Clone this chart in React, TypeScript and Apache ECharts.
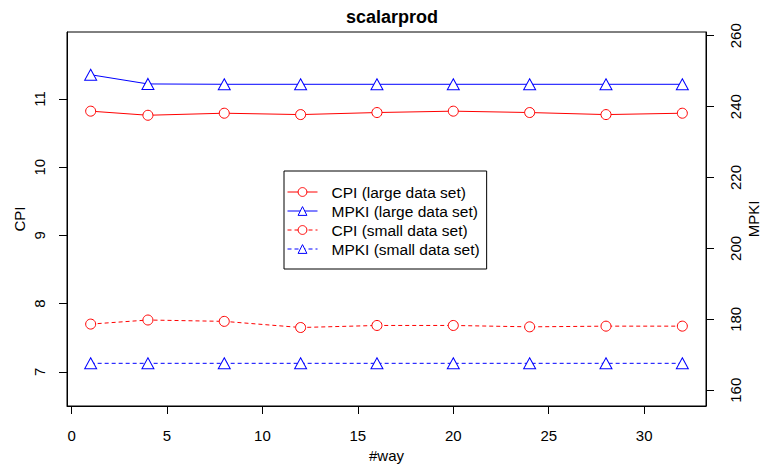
import React, { useEffect, useRef } from "react";
import * as echarts from "echarts";

// #way settings on the x axis
const ways = [1, 4, 8, 12, 16, 20, 24, 28, 32];

// CPI and MPKI for the large and small data sets
const cpiLarge = [10.82, 10.76, 10.79, 10.77, 10.8, 10.82, 10.8, 10.77, 10.79];
const mpkiLarge = [249.0, 246.4, 246.3, 246.3, 246.3, 246.3, 246.3, 246.3, 246.3];
const cpiSmall = [7.7, 7.76, 7.74, 7.65, 7.68, 7.68, 7.66, 7.67, 7.67];
const mpkiSmall = [167.6, 167.6, 167.6, 167.6, 167.6, 167.6, 167.6, 167.6, 167.6];

// tick positions
const wayTicks = [0, 5, 10, 15, 20, 25, 30];
const cpiTicks = [7, 8, 9, 10, 11];
const mpkiTicks = [160, 180, 200, 220, 240, 260];

const FONT = "'Liberation Sans', Arial, Helvetica, sans-serif";
const RED = "#ff0000";
const BLUE = "#0000ff";

const pairs = (ys: number[]) => ways.map((x, i) => [x, ys[i]]);

export default function App() {
  const ref = useRef<HTMLDivElement>(null);

  useEffect(() => {
    if (!ref.current) return;
    const chart = echarts.init(ref.current, null, { renderer: "svg" });

    const lineSeries = (
      name: string,
      ys: number[],
      color: string,
      symbol: string,
      dashed: boolean,
      yAxisIndex: number
    ) => ({
      name,
      type: "line",
      yAxisIndex,
      data: pairs(ys),
      symbol,
      symbolSize: symbol === "triangle" ? [12, 11] : 10,
      showAllSymbol: true,
      lineStyle: {
        color,
        width: 1,
        type: dashed ? [4, 3] : "solid",
      },
      itemStyle: {
        color: "#ffffff",
        borderColor: color,
        borderWidth: 1,
      },
      emphasis: { disabled: true },
    });

    chart.setOption({
      animation: false,
      backgroundColor: "#ffffff",
      textStyle: { fontFamily: FONT },
      title: {
        text: "scalarprod",
        left: 387,
        top: 3,
        textAlign: "center",
        textStyle: {
          fontFamily: FONT,
          fontSize: 18,
          fontWeight: "bold",
          color: "#000",
        },
      },
      grid: {
        left: 67,
        right: 55,
        top: 32,
        bottom: 60,
        outerBoundsMode: "none",
        containLabel: false,
        show: true,
        borderColor: "#000",
        borderWidth: 1,
        backgroundColor: "transparent",
      },
      legend: {
        orient: "vertical",
        left: 284,
        top: 171,
        padding: [13, 7, 12, 3],
        itemWidth: 30,
        itemHeight: 11,
        itemGap: 3,
        backgroundColor: "#ffffff",
        borderColor: "#000",
        borderWidth: 1,
        borderRadius: 0,
        selectedMode: false,
        itemStyle: { borderWidth: 1 },
        lineStyle: { width: 1 },
        textStyle: {
          fontFamily: FONT,
          fontSize: 15.5,
          color: "#000",
          lineHeight: 16,
          padding: [0, 0, 0, 9],
        },
        data: [
          "CPI (large data set)",
          "MPKI (large data set)",
          "CPI (small data set)",
          "MPKI (small data set)",
        ],
      },
      xAxis: {
        type: "value",
        min: -0.24,
        max: 33.24,
        name: "#way",
        nameLocation: "middle",
        nameGap: 42,
        nameMoveOverlap: false,
        nameTextStyle: { fontFamily: FONT, fontSize: 15, color: "#000" },
        axisLine: { show: true, onZero: false, lineStyle: { color: "#000", width: 1 } },
        axisTick: {
          show: true,
          length: 8,
          customValues: wayTicks,
          lineStyle: { color: "#000" },
        },
        axisLabel: {
          customValues: wayTicks,
          margin: 22,
          fontFamily: FONT,
          fontSize: 15,
          color: "#000",
        },
        splitLine: { show: false },
      },
      yAxis: [
        {
          type: "value",
          position: "left",
          min: 6.5,
          max: 11.98,
          name: "CPI",
          nameLocation: "middle",
          nameGap: 40,
          nameRotate: 90,
          nameMoveOverlap: false,
          nameTextStyle: { fontFamily: FONT, fontSize: 15, color: "#000" },
          axisLine: { show: true, onZero: false, lineStyle: { color: "#000", width: 1 } },
          axisTick: {
            show: true,
            length: 8,
            customValues: cpiTicks,
            lineStyle: { color: "#000" },
          },
          axisLabel: {
            customValues: cpiTicks,
            rotate: 90,
            margin: 20,
            fontFamily: FONT,
            fontSize: 15,
            color: "#000",
          },
          splitLine: { show: false },
        },
        {
          type: "value",
          position: "right",
          min: 155.56,
          max: 261.05,
          name: "MPKI",
          nameLocation: "middle",
          nameGap: 40,
          nameRotate: 90,
          nameMoveOverlap: false,
          nameTextStyle: { fontFamily: FONT, fontSize: 15, color: "#000" },
          axisLine: { show: true, onZero: false, lineStyle: { color: "#000", width: 1 } },
          axisTick: {
            show: true,
            length: 8,
            customValues: mpkiTicks,
            lineStyle: { color: "#000" },
          },
          axisLabel: {
            customValues: mpkiTicks,
            rotate: 90,
            margin: 22,
            fontFamily: FONT,
            fontSize: 15,
            color: "#000",
          },
          splitLine: { show: false },
        },
      ],
      series: [
        lineSeries("CPI (large data set)", cpiLarge, RED, "circle", false, 0),
        lineSeries("MPKI (large data set)", mpkiLarge, BLUE, "triangle", false, 1),
        lineSeries("CPI (small data set)", cpiSmall, RED, "circle", true, 0),
        lineSeries("MPKI (small data set)", mpkiSmall, BLUE, "triangle", true, 1),
      ],
    });

    return () => chart.dispose();
  }, []);

  return (
    <div
      ref={ref}
      style={{ position: "fixed", left: 0, top: 0, width: 761, height: 466 }}
    />
  );
}
